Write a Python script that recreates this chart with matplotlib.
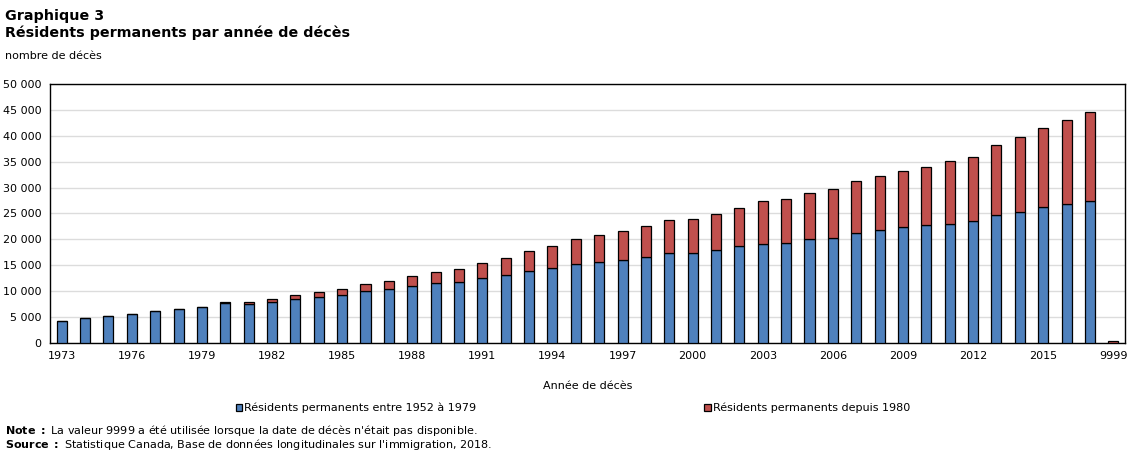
import matplotlib
matplotlib.use("Agg")
import matplotlib.pyplot as plt
from matplotlib.ticker import FuncFormatter
import numpy as np

plt.rcParams["font.family"] = ["DejaVu Sans"]

years = [str(y) for y in range(1973, 2018)] + ["9999"]

# Résidents permanents entre 1952 à 1979
avant_1980 = [
    4250, 4830, 5210, 5660, 6180, 6560, 6950, 7720, 7530, 7850,
    8490, 8880, 9270, 9970, 10420, 11000, 11580, 11780, 12550, 13130,
    13900, 14480, 15250, 15640, 16020, 16600, 17370, 17370, 17950, 18730,
    19110, 19310, 20080, 20270, 21240, 21810, 22390, 22780, 22970, 23550,
    24710, 25290, 26250, 26830, 27410, 0,
]
# Résidents permanents depuis 1980 (totaux lus puis différence)
totaux = [
    4250, 4830, 5210, 5660, 6180, 6560, 6950, 7980, 7920, 8490,
    9270, 9850, 10420, 11390, 11970, 12930, 13710, 14290, 15440, 16410,
    17760, 18730, 20080, 20850, 21620, 22590, 23750, 23940, 24900, 26060,
    27410, 27800, 28960, 29730, 31270, 32240, 33200, 33980, 35140, 35910,
    38220, 39770, 41510, 43050, 44590, 390,
]
depuis_1980 = [t - a for t, a in zip(totaux, avant_1980)]

tick_labels = [y for i, y in enumerate(years[:-1]) if i % 3 == 0] + ["9999"]

blue = "#4F81BD"
red = "#C0504D"

fig = plt.figure(figsize=(11.35, 4.55), dpi=100)
ax = fig.add_axes([50 / 1135, 1 - 343 / 455, 1075 / 1135, 259 / 455])

x = np.arange(len(years))
ax.bar(x, avant_1980, width=0.43, color=blue, edgecolor="black",
       linewidth=0.9, label="Résidents permanents entre 1952 à 1979", zorder=3)
ax.bar(x, depuis_1980, width=0.43, bottom=avant_1980, color=red,
       edgecolor="black", linewidth=0.9,
       label="Résidents permanents depuis 1980", zorder=3)

ax.set_xlim(-0.5, len(years) - 0.5)
ax.set_ylim(0, 50000)
ax.set_yticks(np.arange(0, 50001, 5000))
ax.yaxis.set_major_formatter(
    FuncFormatter(lambda v, p: f"{int(v):,}".replace(",", " "))
)
tick_pos = [i for i in range(len(years) - 1) if i % 3 == 0] + [len(years) - 1]
ax.set_xticks(tick_pos)
ax.set_xticklabels(tick_labels)
ax.tick_params(length=0, labelsize=8, pad=6)
ax.grid(axis="y", color="#dcdcdc", linewidth=1, zorder=0)
for s in ax.spines.values():
    s.set_color("black")
    s.set_linewidth(1)

ax.set_xlabel("Année de décès", fontsize=8, labelpad=14)

fig.text(5 / 1135, 1 - 16 / 455, "Graphique 3", fontsize=10.3,
         fontweight="bold", va="center")
fig.text(5 / 1135, 1 - 33 / 455, "Résidents permanents par année de décès",
         fontsize=10.3, fontweight="bold", va="center")
fig.text(5 / 1135, 1 - 56 / 455, "nombre de décès", fontsize=8, va="center")

handles, labels = ax.get_legend_handles_labels()
fig.legend(handles, labels, loc="center", bbox_to_anchor=(573 / 1135, 1 - 408 / 455),
           ncol=2, frameon=False, fontsize=8, handlelength=0.6,
           handleheight=0.6, handletextpad=0.2, columnspacing=20.5)

fig.text(5 / 1135, 1 - 431 / 455, r"$\bf{Note\ :}$ La valeur 9999 a été utilisée lorsque la date de décès n'était pas disponible.",
         fontsize=8, va="center")
fig.text(5 / 1135, 1 - 444 / 455, r"$\bf{Source\ :}$ Statistique Canada, Base de données longitudinales sur l'immigration, 2018.",
         fontsize=8, va="center")

fig.savefig("out.png", dpi=100)
